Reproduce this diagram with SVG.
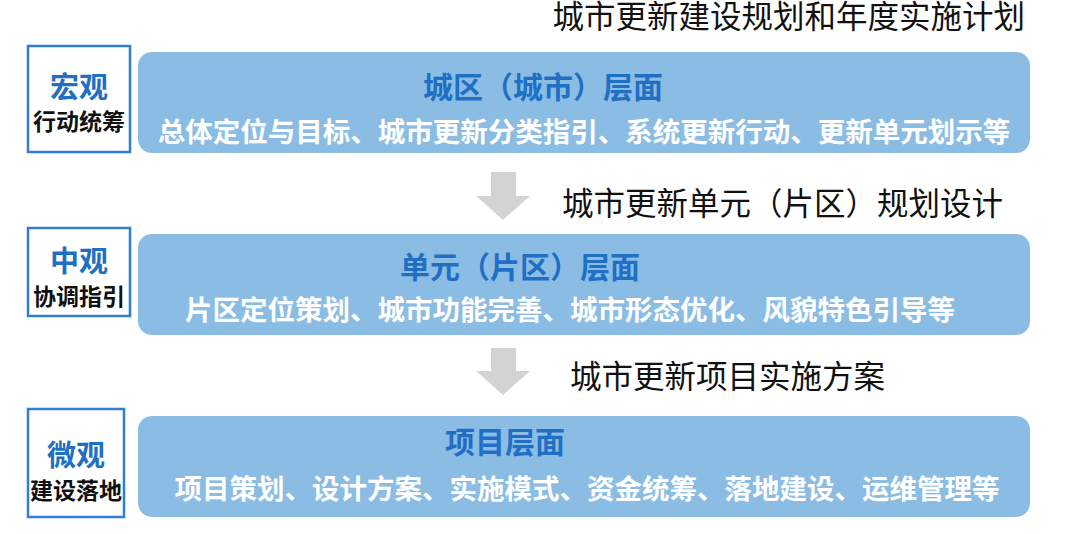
<svg xmlns="http://www.w3.org/2000/svg" width="1080" height="534" viewBox="0 0 1080 534">
<style>
.band{fill:#8bbde4}
.lb{fill:#fff;stroke:#2f7fd0;stroke-width:2.5}
.t{font-family:"Noto Sans CJK SC",sans-serif;font-weight:bold}
.h{fill:#1f6fc4;font-size:30px}
.w{fill:#fff;font-size:27.5px}
.lt{fill:#1f6fc4;font-size:29px}
.ls{fill:#111;font-size:23px}
.cap{font-family:"Noto Sans CJK SC",sans-serif;font-size:31.5px;fill:#111}
.arr{fill:#d3d3d3}
</style>
<text class="cap" x="1025" y="28" text-anchor="end">城市更新建设规划和年度实施计划</text>
<g id="macro"><rect class="lb" x="28" y="46" width="102" height="106"/><text class="t lt" x="79" y="98" text-anchor="middle">宏观</text><text class="t ls" x="79" y="130" text-anchor="middle">行动统筹</text></g>
<g id="level1"><rect class="band" x="138" y="52" width="892" height="101" rx="14"/><text class="t h" x="543" y="98" text-anchor="middle">城区（城市）层面</text><text class="t w" x="584" y="142" text-anchor="middle">总体定位与目标、城市更新分类指引、系统更新行动、更新单元划示等</text></g>
<g id="meso"><rect class="lb" x="28" y="228" width="102" height="88"/><text class="t lt" x="79" y="272" text-anchor="middle">中观</text><text class="t ls" x="79" y="305" text-anchor="middle">协调指引</text></g>
<g id="level2"><rect class="band" x="138" y="234" width="892" height="101" rx="14"/><text class="t h" x="520" y="278" text-anchor="middle">单元（片区）层面</text><text class="t w" x="570" y="320" text-anchor="middle">片区定位策划、城市功能完善、城市形态优化、风貌特色引导等</text></g>
<g id="micro"><rect class="lb" x="28" y="409" width="96" height="108"/><text class="t lt" x="76" y="466" text-anchor="middle">微观</text><text class="t ls" x="76" y="499" text-anchor="middle">建设落地</text></g>
<g id="level3"><rect class="band" x="138" y="416" width="892" height="101" rx="14"/><text class="t h" x="505" y="453" text-anchor="middle">项目层面</text><text class="t w" x="587" y="499" text-anchor="middle">项目策划、设计方案、实施模式、资金统筹、落地建设、运维管理等</text></g>
<g id="connectors">
<polygon class="arr" points="491,172 516,172 516,196 530,196 503,220 476,196 491,196"/>
<text class="cap" x="562" y="215">城市更新单元（片区）规划设计</text>
<polygon class="arr" points="491,348 516,348 516,371 530,371 503,395 476,371 491,371"/>
<text class="cap" x="570" y="388">城市更新项目实施方案</text>
</g>
</svg>
